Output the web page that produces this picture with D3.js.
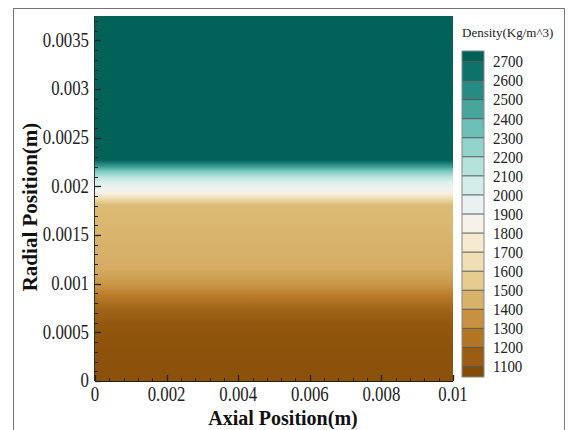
<!DOCTYPE html>
<html><head><meta charset="utf-8">
<script src="https://cdn.jsdelivr.net/npm/d3@7"></script>
<style>html,body{margin:0;padding:0;background:#fff;}svg{display:block;}</style>
</head><body>
<svg id="chart" width="568" height="430"></svg>
<script>
// ---- data ----
const radialPos = [0, 0.0003, 0.0006, 0.00075, 0.00088, 0.001, 0.00115, 0.0015, 0.00181, 0.00188, 0.00192, 0.00197, 0.00204, 0.0021, 0.00215, 0.00221, 0.00227, 0.00375];
const density   = [1095, 1105, 1130, 1190, 1280, 1370, 1430, 1460, 1480, 1650, 1800, 1920, 2000, 2150, 2300, 2500, 2720, 2720];
const xTicks = [0, 0.002, 0.004, 0.006, 0.008, 0.01];
const xTickLabels = ["0", "0.002", "0.004", "0.006", "0.008", "0.01"];
const yTicks = [0, 0.0005, 0.001, 0.0015, 0.002, 0.0025, 0.003, 0.0035];
const yTickLabels = ["0", "0.0005", "0.001", "0.0015", "0.002", "0.0025", "0.003", "0.0035"];
const levels = [1100,1200,1300,1400,1500,1600,1700,1800,1900,2000,2100,2200,2300,2400,2500,2600,2700];
const legendRange = [1045, 2755];
const paletteValues = [900,1100,1300,1500,1700,1900,2100,2300,2500,2700,2900];
const paletteColors = ["#543005","#8c510a","#bf812d","#dfc27d","#f6e8c3","#f5f5f5","#c7eae5","#80cdc1","#35978f","#01665e","#003c30"];

const svg = d3.select("#chart");
const serif = "'Liberation Serif','Times New Roman',serif";

// frame
svg.append("rect").attr("x",13.5).attr("y",8.5).attr("width",551).attr("height",440)
  .attr("fill","none").attr("stroke","#777").attr("stroke-width",1);

const x = d3.scaleLinear().domain([0,0.01]).range([95,453]);
const y = d3.scaleLinear().domain([0,0.00375]).range([381,16]);
const color = d3.scaleLinear().domain(paletteValues).range(paletteColors).interpolate(d3.interpolateRgb).clamp(true);

// field gradient
const defs = svg.append("defs");
const grad = defs.append("linearGradient").attr("id","field")
  .attr("gradientUnits","userSpaceOnUse")
  .attr("x1",0).attr("x2",0).attr("y1",y(0)).attr("y2",y(0.00375));
grad.selectAll("stop").data(radialPos).join("stop")
  .attr("offset",(d)=> d/0.00375)
  .attr("stop-color",(d,i)=>color(density[i]));

svg.append("rect").attr("x",x(0)).attr("y",y(0.00375))
  .attr("width",x(0.01)-x(0)).attr("height",y(0)-y(0.00375))
  .attr("fill","url(#field)");

// axes lines
svg.append("line").attr("x1",x(0)).attr("x2",x(0.01)).attr("y1",y(0)+0.5).attr("y2",y(0)+0.5).attr("stroke","#2a1a08");
svg.append("line").attr("x1",x(0)-0.5).attr("x2",x(0)-0.5).attr("y1",y(0)).attr("y2",y(0.00375)).attr("stroke","#333");

// ticks
const yMinor = d3.range(0, 0.00375+1e-9, 0.0001);
svg.selectAll(".ymin").data(yMinor).join("line")
  .attr("x1",x(0)).attr("x2",x(0)+3).attr("y1",d=>Math.round(y(d))+0.5).attr("y2",d=>Math.round(y(d))+0.5)
  .attr("stroke","#222");
svg.selectAll(".ymaj").data(yTicks).join("line")
  .attr("x1",x(0)).attr("x2",x(0)+6).attr("y1",d=>Math.round(y(d))+0.5).attr("y2",d=>Math.round(y(d))+0.5)
  .attr("stroke","#222").attr("stroke-width",1.3);
const xMinor = d3.range(0, 0.01+1e-9, 0.0004);
svg.selectAll(".xmin").data(xMinor).join("line")
  .attr("x1",d=>Math.round(x(d))+0.5).attr("x2",d=>Math.round(x(d))+0.5).attr("y1",y(0)).attr("y2",y(0)-3)
  .attr("stroke","#222");
svg.selectAll(".xmaj").data(xTicks).join("line")
  .attr("x1",d=>Math.round(x(d))+0.5).attr("x2",d=>Math.round(x(d))+0.5).attr("y1",y(0)).attr("y2",y(0)-6)
  .attr("stroke","#222").attr("stroke-width",1.3);

// tick labels
svg.selectAll(".ylab").data(yTicks).join("text")
  .attr("transform",d=>`translate(89,${y(d)}) scale(0.84,1)`)
  .attr("text-anchor","end").attr("dominant-baseline","central")
  .attr("font-family",serif).attr("font-size",20).attr("fill","#222")
  .text((d,i)=>yTickLabels[i]);
svg.selectAll(".xlab").data(xTicks).join("text")
  .attr("transform",d=>`translate(${x(d)},401) scale(0.84,1)`)
  .attr("text-anchor","middle")
  .attr("font-family",serif).attr("font-size",20).attr("fill","#222")
  .text((d,i)=>xTickLabels[i]);

// axis titles
svg.append("text").attr("transform","translate(283,425)")
  .attr("text-anchor","middle").attr("font-family",serif).attr("font-weight","bold")
  .attr("font-size",20).attr("fill","#111").text("Axial Position(m)");
svg.append("text").attr("transform","translate(37,207) rotate(-90)")
  .attr("text-anchor","middle").attr("font-family",serif).attr("font-weight","bold")
  .attr("font-size",21).attr("fill","#111").text("Radial Position(m)");

// legend
const ly = d3.scaleLinear().domain(legendRange).range([377,51]);
const bounds = [legendRange[0], ...levels, legendRange[1]];
const bands = d3.range(bounds.length-1).map(i=>[bounds[i],bounds[i+1]]);
const lg = svg.append("g");
lg.selectAll("rect.band").data(bands).join("rect").attr("class","band")
  .attr("x",462).attr("width",22)
  .attr("y",d=>ly(d[1])).attr("height",d=>ly(d[0])-ly(d[1]))
  .attr("fill",d=>color((d[0]+d[1])/2));
lg.selectAll("line.lev").data(levels).join("line").attr("class","lev")
  .attr("x1",462).attr("x2",484).attr("y1",d=>ly(d)).attr("y2",d=>ly(d))
  .attr("stroke","#555").attr("stroke-width",1);
lg.append("rect").attr("x",462).attr("y",ly(legendRange[1])).attr("width",22)
  .attr("height",ly(legendRange[0])-ly(legendRange[1]))
  .attr("fill","none").attr("stroke","#888");
lg.selectAll("text.ll").data(levels).join("text").attr("class","ll")
  .attr("transform",d=>`translate(493,${ly(d)}) scale(0.88,1)`)
  .attr("dominant-baseline","central")
  .attr("font-family",serif).attr("font-size",17).attr("fill","#222")
  .text(d=>d);
svg.append("text").attr("x",462).attr("y",37)
  .attr("font-family",serif).attr("font-size",13).attr("fill","#222")
  .text("Density(Kg/m^3)");
</script>
</body></html>
